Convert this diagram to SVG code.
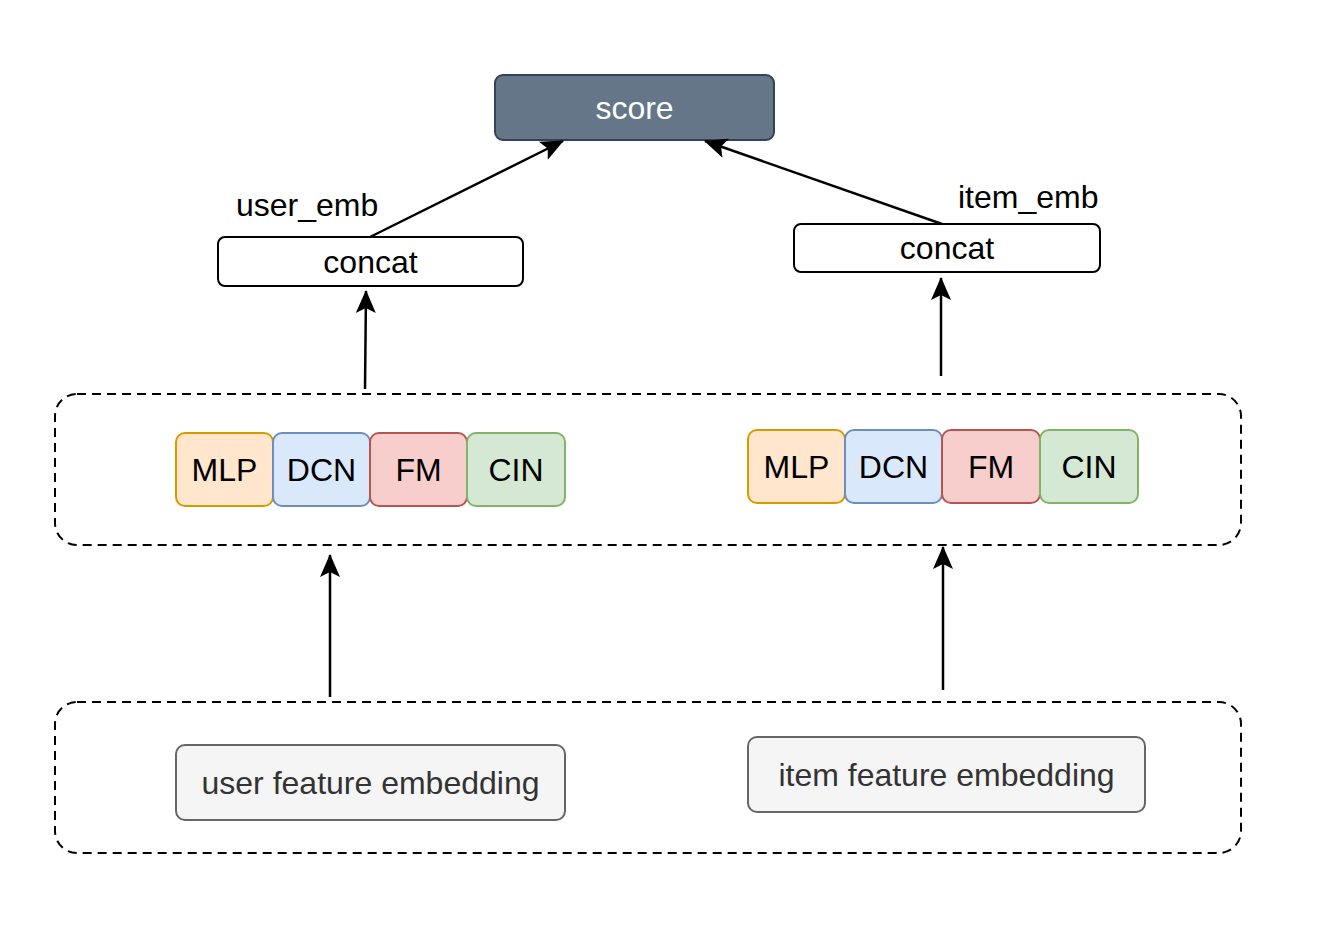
<svg xmlns="http://www.w3.org/2000/svg" width="1340" height="932" viewBox="0 0 1340 932">
<defs>
<marker id="arr" markerUnits="userSpaceOnUse" markerWidth="28" markerHeight="28" viewBox="0 0 28 28" refX="24" refY="14" orient="auto">
<path d="M2,4 L25,14 L2,24 L7,14 Z" fill="#000"/>
</marker>
</defs>
<style>
text{font-family:"Liberation Sans",Arial,Helvetica,sans-serif;font-size:32px;text-anchor:middle;dominant-baseline:central;fill:#000}
.dash{fill:none;stroke:#000;stroke-width:2;stroke-dasharray:9 6}
.plain{fill:#fff;stroke:#000;stroke-width:2}
.edge{fill:none;stroke:#000;stroke-width:2.5;marker-end:url(#arr)}
.mlp{fill:#ffe6cc;stroke:#d79b00;stroke-width:2}
.dcn{fill:#dae8fc;stroke:#6c8ebf;stroke-width:2}
.fm{fill:#f8cecc;stroke:#b85450;stroke-width:2}
.cin{fill:#d5e8d4;stroke:#82b366;stroke-width:2}
.feat{fill:#f5f5f5;stroke:#666;stroke-width:2}
.lbl{text-anchor:start}
</style>
<g id="group-top">
<rect class="dash" x="55" y="394" width="1186" height="151" rx="22"/>
</g>
<g id="group-bottom">
<rect class="dash" x="55" y="702" width="1186" height="151" rx="22"/>
</g>
<g id="score">
<rect x="495" y="75" width="279" height="65" rx="8" fill="#647687" stroke="#314354" stroke-width="2"/>
<text x="634.5" y="108" style="fill:#fff">score</text>
</g>
<g id="concat-user">
<rect class="plain" x="218" y="237" width="305" height="49" rx="7"/>
<text x="370.5" y="262">concat</text>
</g>
<g id="concat-item">
<rect class="plain" x="794" y="224" width="306" height="48" rx="7"/>
<text x="947" y="248">concat</text>
</g>
<g id="label-user-emb"><text class="lbl" x="236" y="205">user_emb</text></g>
<g id="label-item-emb"><text class="lbl" x="958" y="197">item_emb</text></g>
<g id="user-mlp"><rect class="mlp" x="176" y="433" width="97" height="73" rx="9"/><text x="224.5" y="469.5">MLP</text></g>
<g id="user-dcn"><rect class="dcn" x="273" y="433" width="97" height="73" rx="9"/><text x="321.5" y="469.5">DCN</text></g>
<g id="user-fm"><rect class="fm" x="370" y="433" width="97" height="73" rx="9"/><text x="418.5" y="469.5">FM</text></g>
<g id="user-cin"><rect class="cin" x="467" y="433" width="98" height="73" rx="9"/><text x="516" y="469.5">CIN</text></g>
<g id="item-mlp"><rect class="mlp" x="748" y="430" width="97" height="73" rx="9"/><text x="796.5" y="466.5">MLP</text></g>
<g id="item-dcn"><rect class="dcn" x="845" y="430" width="97" height="73" rx="9"/><text x="893.5" y="466.5">DCN</text></g>
<g id="item-fm"><rect class="fm" x="942" y="430" width="98" height="73" rx="9"/><text x="991" y="466.5">FM</text></g>
<g id="item-cin"><rect class="cin" x="1040" y="430" width="98" height="73" rx="9"/><text x="1089" y="466.5">CIN</text></g>
<g id="user-feature">
<rect class="feat" x="176" y="745" width="389" height="75" rx="9"/>
<text x="370.5" y="782.5" style="fill:#333">user feature embedding</text>
</g>
<g id="item-feature">
<rect class="feat" x="748" y="737" width="397" height="75" rx="9"/>
<text x="946.5" y="774.5" style="fill:#333">item feature embedding</text>
</g>
<g id="connectors">
<path class="edge" d="M370,237 L563,141"/>
<path class="edge" d="M942,224 L705,141"/>
<path class="edge" d="M365,389 L366,291"/>
<path class="edge" d="M941,376 L941,278"/>
<path class="edge" d="M330,697 L330,555"/>
<path class="edge" d="M943,690 L943,547"/>
</g>
</svg>
